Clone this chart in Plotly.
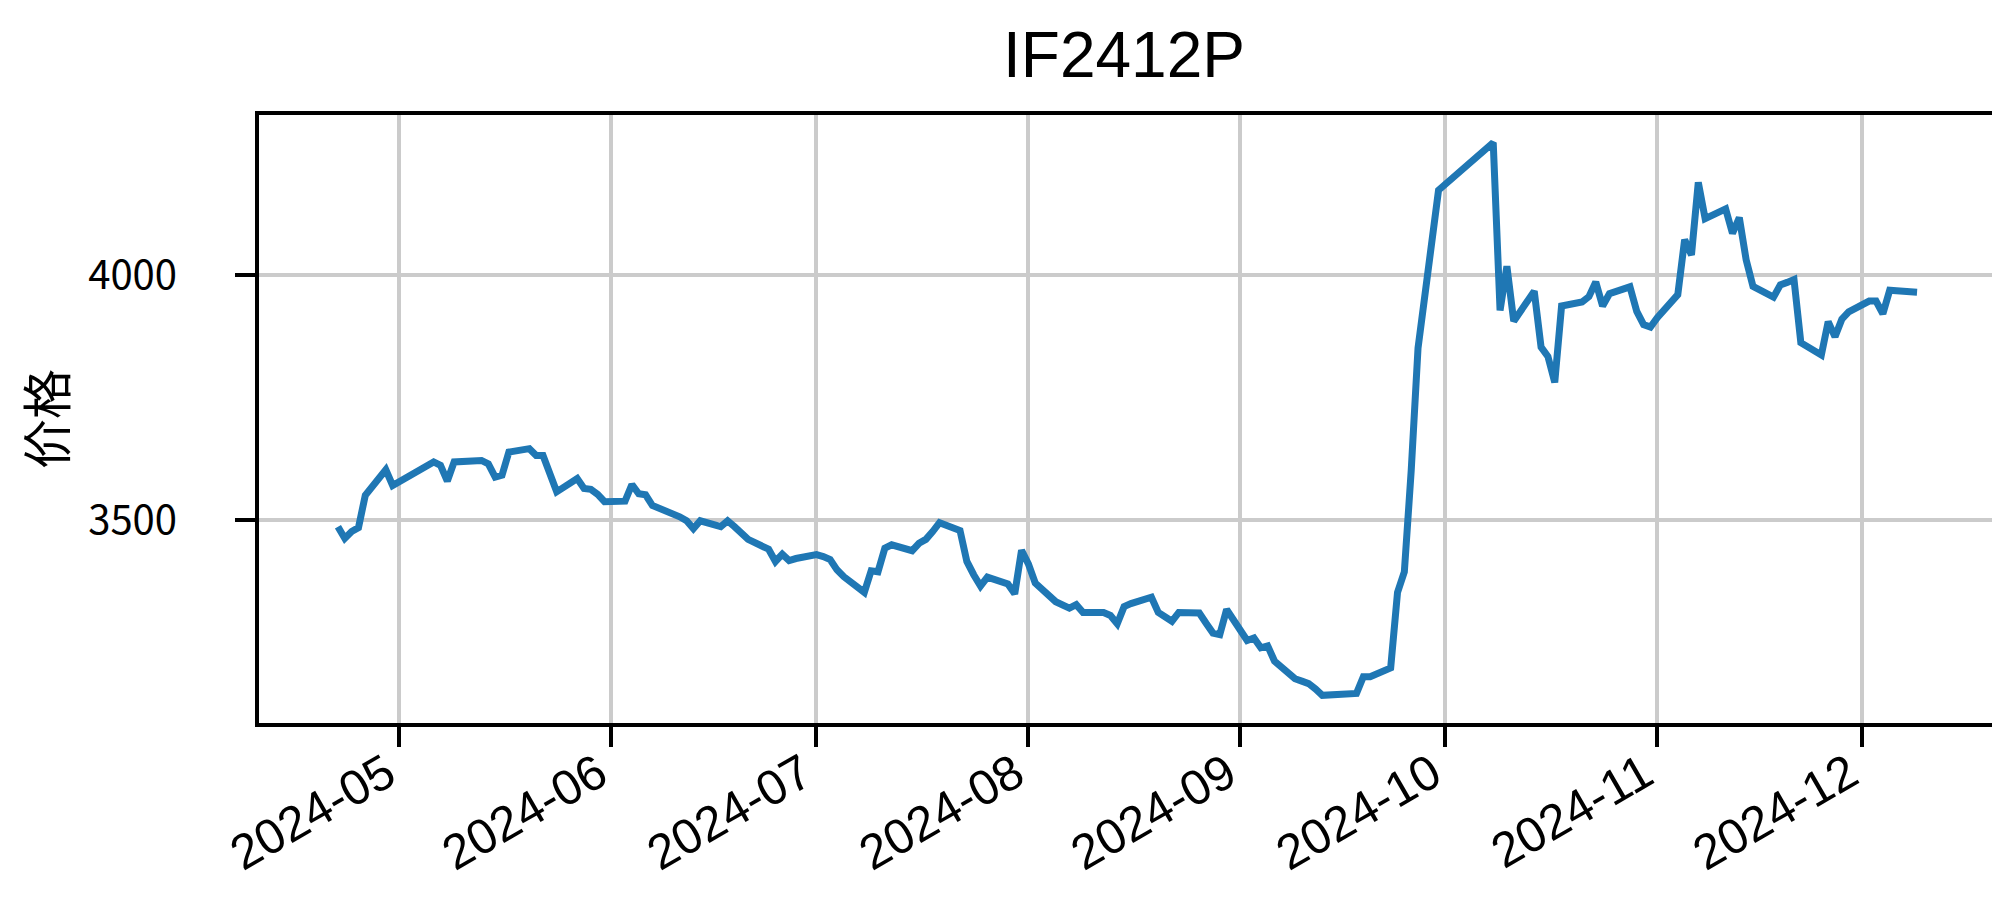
import pandas as pd
import plotly.graph_objects as go

# ---- data ----
dates = [
    "2024-04-22", "2024-04-23", "2024-04-24", "2024-04-25", "2024-04-26",
    "2024-04-29", "2024-04-30",
    "2024-05-06", "2024-05-07", "2024-05-08", "2024-05-09", "2024-05-10",
    "2024-05-13", "2024-05-14", "2024-05-15", "2024-05-16", "2024-05-17",
    "2024-05-20", "2024-05-21", "2024-05-22", "2024-05-23", "2024-05-24",
    "2024-05-27", "2024-05-28", "2024-05-29", "2024-05-30", "2024-05-31",
    "2024-06-03", "2024-06-04", "2024-06-05", "2024-06-06", "2024-06-07",
    "2024-06-11", "2024-06-12", "2024-06-13", "2024-06-14",
    "2024-06-17", "2024-06-18", "2024-06-19", "2024-06-20", "2024-06-21",
    "2024-06-24", "2024-06-25", "2024-06-26", "2024-06-27", "2024-06-28",
    "2024-07-01", "2024-07-02", "2024-07-03", "2024-07-04", "2024-07-05",
    "2024-07-08", "2024-07-09", "2024-07-10", "2024-07-11", "2024-07-12",
    "2024-07-15", "2024-07-16", "2024-07-17", "2024-07-18", "2024-07-19",
    "2024-07-22", "2024-07-23", "2024-07-24", "2024-07-25", "2024-07-26",
    "2024-07-29", "2024-07-30", "2024-07-31", "2024-08-01", "2024-08-02",
    "2024-08-05", "2024-08-06", "2024-08-07", "2024-08-08", "2024-08-09",
    "2024-08-12", "2024-08-13", "2024-08-14", "2024-08-15", "2024-08-16",
    "2024-08-19", "2024-08-20", "2024-08-21", "2024-08-22", "2024-08-23",
    "2024-08-26", "2024-08-27", "2024-08-28", "2024-08-29", "2024-08-30",
    "2024-09-02", "2024-09-03", "2024-09-04", "2024-09-05", "2024-09-06",
    "2024-09-09", "2024-09-10", "2024-09-11", "2024-09-12", "2024-09-13",
    "2024-09-18", "2024-09-19", "2024-09-20",
    "2024-09-23", "2024-09-24", "2024-09-25", "2024-09-26", "2024-09-27",
    "2024-09-30",
    "2024-10-08", "2024-10-09", "2024-10-10", "2024-10-11",
    "2024-10-14", "2024-10-15", "2024-10-16", "2024-10-17", "2024-10-18",
    "2024-10-21", "2024-10-22", "2024-10-23", "2024-10-24", "2024-10-25",
    "2024-10-28", "2024-10-29", "2024-10-30", "2024-10-31", "2024-11-01",
    "2024-11-04", "2024-11-05", "2024-11-06", "2024-11-07", "2024-11-08",
    "2024-11-11", "2024-11-12", "2024-11-13", "2024-11-14", "2024-11-15",
    "2024-11-18", "2024-11-19", "2024-11-20", "2024-11-21", "2024-11-22",
    "2024-11-25", "2024-11-26", "2024-11-27", "2024-11-28", "2024-11-29",
    "2024-12-02", "2024-12-03", "2024-12-04", "2024-12-05", "2024-12-06",
    "2024-12-09",
]

prices = [
    3486, 3462, 3476, 3484, 3550,
    3602, 3570,
    3618, 3611, 3579, 3618, 3618,
    3621, 3614, 3587, 3591, 3638,
    3645, 3631, 3631, 3596, 3557,
    3584, 3564, 3562, 3552, 3537,
    3538, 3572, 3553, 3551, 3529,
    3506, 3498, 3482, 3498,
    3486, 3498, 3486, 3471, 3460,
    3440, 3415, 3430, 3417, 3421,
    3429, 3425, 3419, 3398, 3384,
    3352, 3396, 3394, 3442, 3449,
    3437, 3452, 3460, 3476, 3494,
    3478, 3415, 3388, 3365, 3383,
    3369, 3349, 3438, 3410, 3371,
    3333, 3325, 3320, 3327, 3311,
    3311, 3305, 3288, 3323, 3329,
    3342, 3311, 3302, 3293, 3311,
    3310, 3289, 3269, 3266, 3317,
    3254, 3259, 3239, 3243, 3212,
    3176, 3171, 3166, 3155, 3142,
    3146, 3180, 3180,
    3198, 3352, 3394, 3600, 3850,
    4172,
    4269, 3927, 4017, 3905,
    3966, 3852, 3833, 3780, 3936,
    3944, 3955, 3985, 3936, 3961,
    3975, 3925, 3898, 3893, 3912,
    3959, 4071, 4040, 4188, 4114,
    4134, 4084, 4116, 4030, 3976,
    3954, 3979, 3984, 3990, 3861,
    3836, 3904, 3873, 3909, 3924,
    3946, 3946, 3920, 3968, 3967,
    3964,
]

x_tick_vals = ["2024-05-01", "2024-06-01", "2024-07-01", "2024-08-01",
               "2024-09-01", "2024-10-01", "2024-11-01", "2024-12-01"]
x_tick_text = ["2024-05", "2024-06", "2024-07", "2024-08",
               "2024-09", "2024-10", "2024-11", "2024-12"]
y_tick_vals = [3500, 4000]

title_text = "IF2412P"
y_label = "价格"

# ---- ranges with 5% margins (like matplotlib autoscale) ----
d = pd.to_datetime(pd.Series(dates))
span_x = d.max() - d.min()
x_range = [d.min() - 0.05 * span_x, d.max() + 0.05 * span_x]
p = pd.Series(prices)
span_y = p.max() - p.min()
y_range = [p.min() - 0.05 * span_y, p.max() + 0.05 * span_y]

FONT = "Noto Sans CJK SC"
LATIN = "Liberation Sans"

fig = go.Figure()
fig.add_trace(go.Scatter(
    x=dates, y=prices, mode="lines",
    line=dict(color="#1f77b4", width=7),
    showlegend=False,
))

fig.update_layout(
    width=2000, height=897,
    paper_bgcolor="white", plot_bgcolor="white",
    margin=dict(l=251, r=12, t=107, b=182, autoexpand=False),
    font=dict(family=FONT, color="black"),
    title=dict(
        text=title_text, x=0.558, xanchor="center",
        y=0.948, yanchor="middle", yref="container",
        font=dict(family=LATIN, size=64, color="black"),
    ),
)

fig.update_xaxes(
    type="date", automargin=False,
    range=[x_range[0].strftime("%Y-%m-%d %H:%M:%S"),
           x_range[1].strftime("%Y-%m-%d %H:%M:%S")],
    tickmode="array", tickvals=x_tick_vals, ticktext=x_tick_text,
    tickangle=-30,
    tickfont=dict(family=LATIN, size=49, color="black"),
    ticklabelstandoff=-21, ticklabelshift=-13,
    ticks="outside", ticklen=20, tickwidth=3.5, tickcolor="black",
    showgrid=True, gridcolor="#cbcbcb", gridwidth=3.5,
    showline=True, linecolor="black", linewidth=4, mirror=True,
    zeroline=False,
)

fig.update_yaxes(
    automargin=False,
    range=y_range,
    tickmode="array", tickvals=y_tick_vals,
    ticktext=[str(v) for v in y_tick_vals],
    tickfont=dict(family=FONT, size=40, color="black"),
    ticks="outside", ticklen=20, tickwidth=3.5, tickcolor="black",
    ticklabelstandoff=50,
    showgrid=True, gridcolor="#cbcbcb", gridwidth=3.5,
    showline=True, linecolor="black", linewidth=4, mirror=True,
    zeroline=False,
    title=dict(text=y_label, font=dict(family=FONT, size=50, color="black"),
               standoff=50),
)

fig.write_html("out.html")
